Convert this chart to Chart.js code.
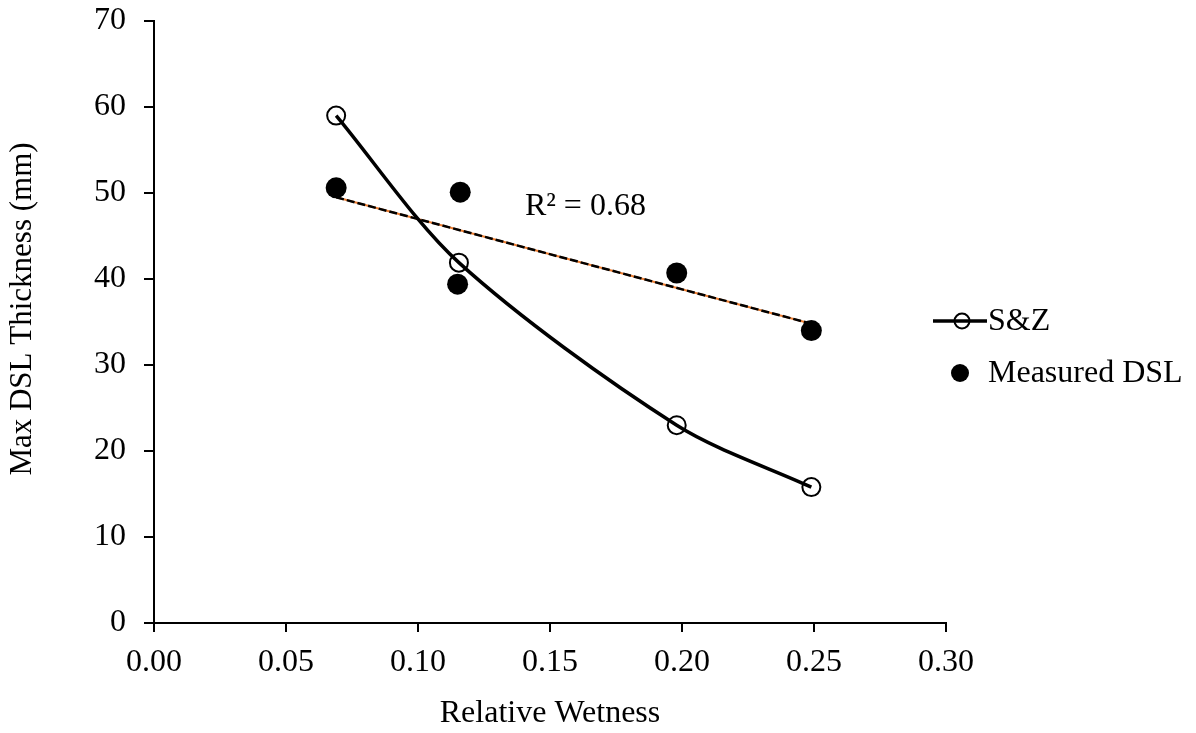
<!DOCTYPE html>
<html>
<head>
<meta charset="utf-8">
<script src="https://cdn.jsdelivr.net/npm/chart.js@4/dist/chart.umd.min.js"></script>
<style>
html,body{margin:0;padding:0;background:#fff;}
canvas{display:block;}
</style>
</head>
<body>
<canvas id="c" width="1196" height="733"></canvas>
<script>
// ---- data ----
const szX = [0.069, 0.1155, 0.198, 0.249];
const szY = [59.0, 41.9, 23.0, 15.8];
const measX = [0.069, 0.116, 0.115, 0.198, 0.249];
const measY = [50.6, 50.1, 39.4, 40.7, 34.0];
const trendX = [0.069, 0.249];
const trendY = [49.5, 34.8];
const seriesNames = ['S&Z', 'Measured DSL'];
const rSquaredLabel = 'R\u00B2 = 0.68';
const xTicks = [0, 0.05, 0.10, 0.15, 0.20, 0.25, 0.30];
const yTicks = [0, 10, 20, 30, 40, 50, 60, 70];
const xTitle = 'Relative Wetness';
const yTitle = 'Max DSL Thickness (mm)';

const FONT = '"Liberation Serif", "Times New Roman", serif';
const FS = 32;
const toPts = (xs, ys) => xs.map((x, i) => ({x: x, y: ys[i]}));

const overlayPlugin = {
  id: 'overlay',
  afterDraw(chart) {
    const ctx = chart.ctx;
    const xs = chart.scales.x, ys = chart.scales.y;
    ctx.save();
    ctx.fillStyle = '#000';
    ctx.font = FS + 'px ' + FONT;
    ctx.textBaseline = 'alphabetic';
    ctx.textAlign = 'left';
    // R² label placed in data coordinates
    ctx.fillText(rSquaredLabel, xs.getPixelForValue(0.1405), ys.getPixelForValue(47.4));

    // y axis title
    ctx.save();
    ctx.font = '31px ' + FONT;
    ctx.translate(23, 309);
    ctx.rotate(-Math.PI / 2);
    ctx.textAlign = 'center';
    ctx.textBaseline = 'middle';
    ctx.fillText(yTitle, 0, 0);
    ctx.restore();

    // legend
    const lx = 933, lw = 54, tx = 988;
    const y1 = 321, y2 = 373;
    ctx.textBaseline = 'middle';
    ctx.strokeStyle = '#000';
    ctx.lineWidth = 3.5;
    ctx.beginPath(); ctx.moveTo(lx, y1); ctx.lineTo(lx + lw, y1); ctx.stroke();
    ctx.lineWidth = 2;
    ctx.beginPath(); ctx.arc(lx + lw / 2 + 2, y1, 7.5, 0, Math.PI * 2); ctx.stroke();
    ctx.fillText(seriesNames[0], tx, y1 + 1);
    ctx.beginPath(); ctx.arc(lx + 27, y2, 9, 0, Math.PI * 2); ctx.fill();
    ctx.fillText(seriesNames[1], tx, y2 + 1);
    ctx.restore();
  }
};

new Chart(document.getElementById('c'), {
  type: 'scatter',
  data: {
    datasets: [
      {
        label: seriesNames[0],
        data: toPts(szX, szY),
        showLine: true,
        tension: 0.3,
        borderColor: '#000',
        borderWidth: 3.5,
        pointStyle: 'circle',
        pointRadius: 9,
        pointBorderWidth: 2,
        pointBorderColor: '#000',
        pointBackgroundColor: 'rgba(0,0,0,0)',
        order: 1
      },
      {
        label: seriesNames[1],
        data: toPts(measX, measY),
        showLine: false,
        pointRadius: 10.5,
        pointBorderWidth: 0,
        pointBackgroundColor: '#000',
        pointBorderColor: '#000',
        order: 2
      },
      {
        label: 'trend-dash',
        data: toPts(trendX, trendY),
        showLine: true,
        borderColor: '#000',
        borderWidth: 2.5,
        borderDash: [8, 3],
        pointRadius: 0,
        order: 3
      },
      {
        label: 'trend-orange',
        data: toPts(trendX, trendY),
        showLine: true,
        borderColor: '#ED7D31',
        borderWidth: 2,
        pointRadius: 0,
        order: 4
      }
    ]
  },
  options: {
    responsive: false,
    animation: false,
    devicePixelRatio: 1,
    layout: {padding: {left: 0, top: 21, right: 250, bottom: 0}},
    plugins: {
      legend: {display: false},
      tooltip: {enabled: false}
    },
    scales: {
      x: {
        type: 'linear',
        min: 0, max: 0.30,
        afterBuildTicks: (s) => { s.ticks = xTicks.map(v => ({value: v})); },
        afterFit: (s) => { s.height = 110; s.paddingLeft = 0; s.paddingRight = 0; },
        border: {display: true, color: '#000', width: 2},
        grid: {display: true, drawOnChartArea: false, drawTicks: true, tickLength: 9, color: '#000', lineWidth: 2},
        ticks: {
          color: '#000',
          font: {family: FONT, size: FS},
          padding: 11,
          maxRotation: 0,
          callback: (v) => Number(v).toFixed(2)
        },
        title: {display: true, text: xTitle, color: '#000', font: {family: FONT, size: FS}, padding: {top: 0, bottom: 0}}
      },
      y: {
        type: 'linear',
        min: 0, max: 70,
        afterBuildTicks: (s) => { s.ticks = yTicks.map(v => ({value: v})); },
        afterFit: (s) => { s.width = 154; s.paddingTop = 0; s.paddingBottom = 0; },
        border: {display: true, color: '#000', width: 2},
        grid: {display: true, drawOnChartArea: false, drawTicks: true, tickLength: 10, color: '#000', lineWidth: 2},
        ticks: {
          color: '#000',
          font: {family: FONT, size: FS},
          padding: 18,
          callback: (v) => String(v)
        },
        title: {display: false, text: yTitle}
      }
    }
  },
  plugins: [overlayPlugin]
});
</script>
</body>
</html>
